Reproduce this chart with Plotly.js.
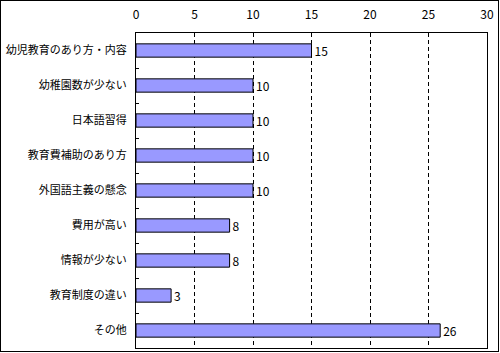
<!DOCTYPE html>
<html>
<head>
<meta charset="utf-8">
<script src="https://cdn.plot.ly/plotly-3.0.1.min.js"></script>
<style>
html,body{margin:0;padding:0;background:#fff;}
#wrap{position:relative;width:500px;height:353px;}
#chart{position:absolute;left:0;top:0;width:500px;height:353px;}
#frame{position:absolute;left:0;top:0;width:499px;height:352px;border:1px solid #000;box-sizing:border-box;pointer-events:none;}
</style>
</head>
<body>
<div id="wrap"><div id="chart"></div><div id="frame"></div></div>
<script>
const categories = ["幼児教育のあり方・内容","幼稚園数が少ない","日本語習得","教育費補助のあり方","外国語主義の懸念","費用が高い","情報が少ない","教育制度の違い","その他"];
const values = [15,10,10,10,10,8,8,3,26];
const xTicks = [0,5,10,15,20,25,30];

const font = "'Noto Sans CJK JP', 'Noto Sans', sans-serif";

Plotly.newPlot('chart', [{
  type: 'bar',
  orientation: 'h',
  y: categories,
  x: values,
  text: values.map(String),
  textposition: 'outside',
  constraintext: 'none',
  cliponaxis: false,
  textfont: {family: font, size: 12, color: '#000'},
  marker: {color: '#9999FF', line: {color: '#000000', width: 1}},
  hoverinfo: 'none'
}], {
  width: 500,
  height: 353,
  margin: {l: 136, r: 13, t: 33, b: 5},
  paper_bgcolor: '#fff',
  plot_bgcolor: '#fff',
  bargap: 0.62,
  showlegend: false,
  font: {family: font, size: 11, color: '#000'},
  xaxis: {
    side: 'top',
    range: [0, 30],
    tickvals: xTicks,
    ticktext: xTicks.map(String),
    showgrid: true,
    gridcolor: '#000',
    griddash: '4px,3px',
    gridwidth: 1,
    zeroline: false,
    showline: true,
    linecolor: '#000',
    linewidth: 1,
    mirror: true,
    ticks: '',
    ticklabelstandoff: 8,
    tickfont: {family: font, size: 12, color: '#000'},
    fixedrange: true
  },
  yaxis: {
    type: 'category',
    autorange: 'reversed',
    showgrid: false,
    zeroline: false,
    showline: true,
    linecolor: '#000',
    linewidth: 1,
    mirror: true,
    ticks: 'inside',
    ticklen: 3,
    tickcolor: '#000',
    tickson: 'boundaries',
    ticklabelstandoff: 6,
    tickfont: {family: font, size: 11, color: '#000'},
    fixedrange: true
  }
}, {staticPlot: true, displayModeBar: false});
</script>
</body>
</html>
